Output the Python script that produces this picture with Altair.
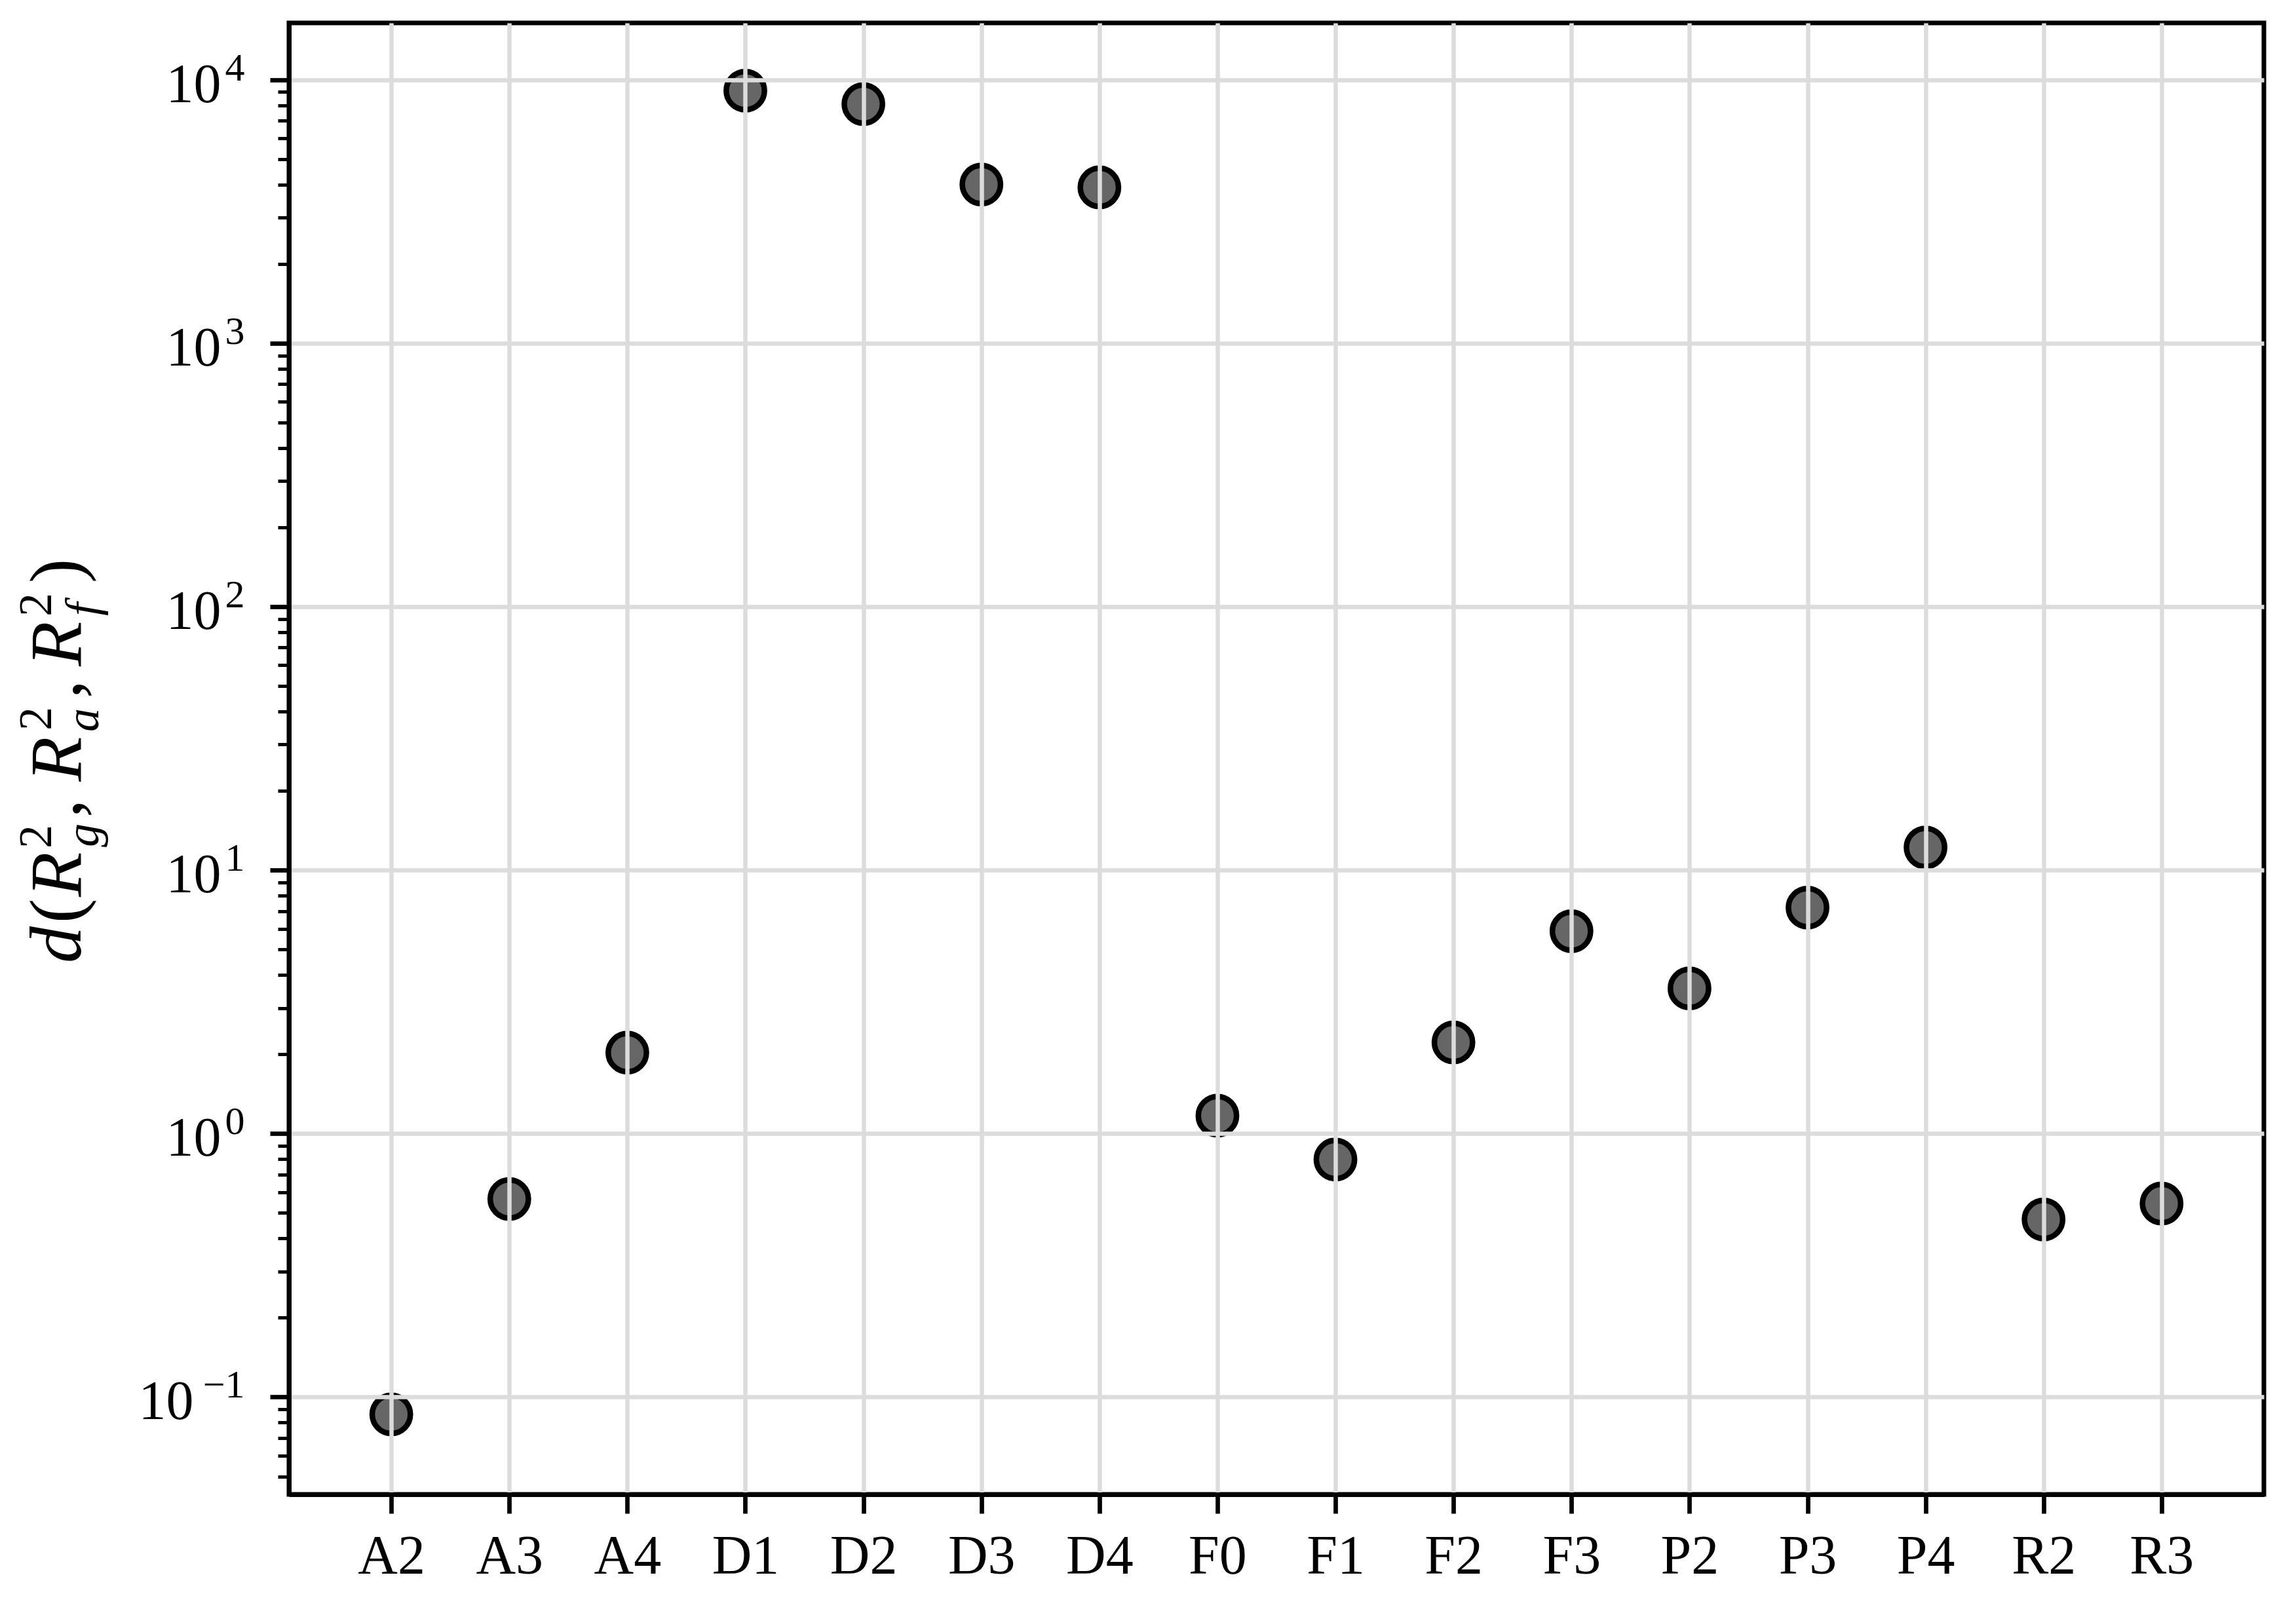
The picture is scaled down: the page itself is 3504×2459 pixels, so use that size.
import json
import altair as alt
import pandas as pd

# ---------------- data ----------------
categories = ["A2", "A3", "A4", "D1", "D2", "D3", "D4", "F0", "F1", "F2",
              "F3", "P2", "P3", "P4", "R2", "R3"]
values = [0.086, 0.565, 2.03, 9100, 8100, 4010, 3910, 1.17, 0.798, 2.22,
          5.87, 3.56, 7.21, 12.2, 0.472, 0.543]

major_ticks = [0.1, 1, 10, 100, 1000, 10000]
exponents = ["\u22121", "0", "1", "2", "3", "4"]
minor_ticks = [0.05, 0.06, 0.07, 0.08, 0.09,
               0.2, 0.3, 0.4, 0.5, 0.6, 0.7, 0.8, 0.9,
               2, 3, 4, 5, 6, 7, 8, 9,
               20, 30, 40, 50, 60, 70, 80, 90,
               200, 300, 400, 500, 600, 700, 800, 900,
               2000, 3000, 4000, 5000, 6000, 7000, 8000, 9000]

df = pd.DataFrame({"model": categories, "d": values})

# ---------------- layout / style ----------------
W, H = 3014, 2246
FONT = "Liberation Serif"
GRID = "#dcdcdc"

yscale = alt.Scale(type="log", domain=[0.04272, 16460], nice=False)
xscale = alt.Scale(type="point", domain=categories, padding=0.867)

points = alt.Chart(df).mark_point(
    shape="circle", filled=True, fill="#666666", stroke="black",
    strokeWidth=8.5, size=3400, opacity=1,
).encode(
    x=alt.X("model:N", scale=xscale, sort=categories,
            axis=alt.Axis(title=None, labelFont=FONT, labelFontSize=84,
                          labelColor="black", labelAngle=0, labelPadding=25,
                          tickSize=29, tickWidth=6.7, tickColor="black",
                          domainColor="black", domainWidth=7,
                          grid=True, gridColor=GRID, gridWidth=6.5,
                          zindex=1, labelOverlap=False)),
    y=alt.Y("d:Q", scale=yscale,
            axis=alt.Axis(title=None, orient="left", values=major_ticks,
                          labels=False, tickSize=29, tickWidth=6.7,
                          tickColor="black", domainColor="black",
                          domainWidth=7, grid=True, gridColor=GRID,
                          gridWidth=6.5, zindex=1)),
)


def helper(axis):
    return alt.Chart(df).mark_point(opacity=0).encode(
        y=alt.Y("d:Q", scale=yscale, axis=axis))


minor_layer = helper(alt.Axis(title=None, orient="left", values=minor_ticks,
                              labels=False, tickSize=17, tickWidth=5,
                              tickColor="black", domain=False, grid=False,
                              zindex=1))

tens_layer = helper(alt.Axis(title=None, orient="left", values=major_ticks[1:],
                             labelExpr="'10'", ticks=False, domain=False,
                             grid=False, labelFont=FONT, labelFontSize=84,
                             labelColor="black", labelAlign="right",
                             labelBaseline="alphabetic", labelOffset=33,
                             labelPadding=104, labelOverlap=False,
                             labelBound=False, labelFlush=False))

tens_m1_layer = helper(alt.Axis(title=None, orient="left", values=major_ticks[:1],
                                labelExpr="'10'", ticks=False, domain=False,
                                grid=False, labelFont=FONT, labelFontSize=84,
                                labelColor="black", labelAlign="right",
                                labelBaseline="alphabetic", labelOffset=33,
                                labelPadding=146, labelOverlap=False,
                                labelBound=False, labelFlush=False))

exp_expr = json.dumps(exponents, ensure_ascii=False) + "[round(log(datum.value)/LN10)+1]"
exp_layer = helper(alt.Axis(title=None, orient="left", values=major_ticks,
                            labelExpr=exp_expr, ticks=False, domain=False,
                            grid=False, labelFont=FONT, labelFontSize=60,
                            labelColor="black", labelAlign="right",
                            labelBaseline="alphabetic", labelOffset=0,
                            labelPadding=68, labelOverlap=False,
                            labelBound=False, labelFlush=False))

# y-axis title  d(R^2_g, R^2_a, R^2_f)  built from pieces (text, size, style, x, y)
title_pieces = [
    ("d", 112, "italic", -318, 1435),
    ("(", 112, "normal", -318, 1374),
    ("R", 112, "italic", -318, 1334),
    ("2", 72, "normal", -363, 1260),
    ("g", 72, "italic", -291, 1258),
    (",", 112, "normal", -318, 1213),
    ("R", 112, "italic", -318, 1158),
    ("2", 72, "normal", -363, 1080),
    ("a", 72, "italic", -291, 1082),
    (",", 112, "normal", -318, 1031),
    ("R", 112, "italic", -318, 982),
    ("2", 72, "normal", -363, 906),
    ("f", 72, "italic", -291, 905),
    (")", 112, "normal", -318, 855),
]

title_layers = []
for txt, fs, style, px, py in title_pieces:
    title_layers.append(
        alt.Chart(alt.Data(values=[{"t": txt}])).mark_text(
            angle=270, align="left", baseline="alphabetic", font=FONT,
            fontSize=fs, fontStyle=style, color="black",
        ).encode(x=alt.value(px), y=alt.value(py), text="t:N")
    )

chart = alt.layer(
    points, minor_layer, tens_layer, tens_m1_layer, exp_layer, *title_layers
).resolve_axis(y="independent").properties(
    width=W, height=H,
    autosize=alt.AutoSizeParams(type="none"),
    padding={"left": 433, "top": 27, "right": 33, "bottom": 170},
    background="white",
).configure_view(stroke="black", strokeWidth=7)

chart.save("out.html", embed_options={"renderer": "svg", "actions": False})
